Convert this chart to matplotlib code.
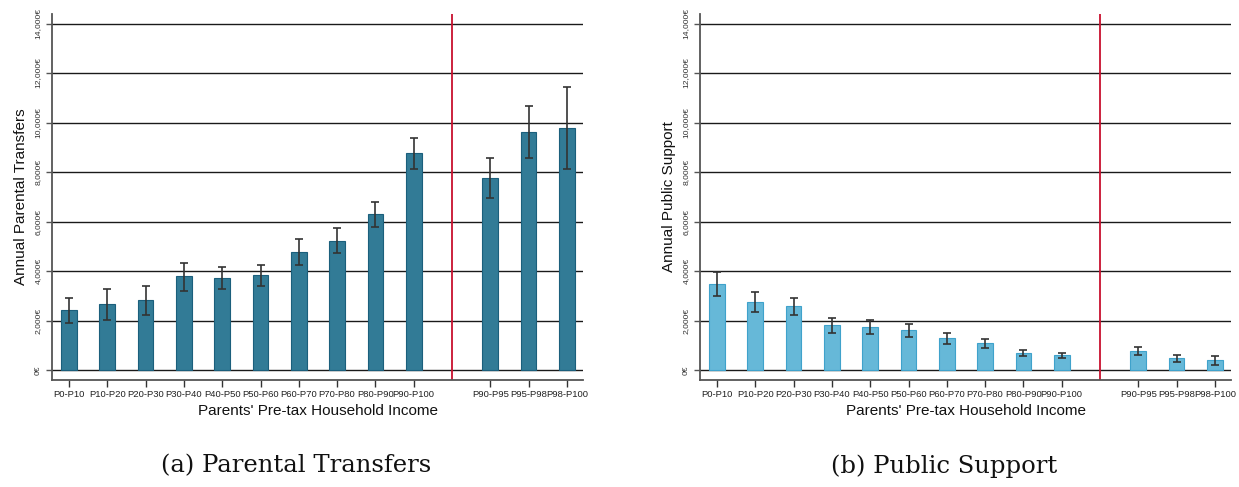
import matplotlib
matplotlib.use("Agg")
import matplotlib.pyplot as plt
import numpy as np

categories = ['P0-P10', 'P10-P20', 'P20-P30', 'P30-P40', 'P40-P50', 'P50-P60',
              'P60-P70', 'P70-P80', 'P80-P90', 'P90-P100',
              'P90-P95', 'P95-P98', 'P98-P100']

transfers = [2420, 2650, 2830, 3780, 3715, 3820, 4750, 5220, 6290, 8750, 7740, 9600, 9770]
transfers_lo = [1910, 2005, 2235, 3205, 3260, 3390, 4225, 4710, 5790, 8115, 6930, 8550, 8115]
transfers_hi = [2895, 3255, 3405, 4335, 4175, 4240, 5275, 5720, 6770, 9380, 8575, 10650, 11415]

public = [3475, 2750, 2585, 1805, 1750, 1600, 1285, 1085, 705, 605, 770, 490, 405]
public_lo = [2985, 2345, 2220, 1490, 1455, 1315, 1050, 890, 550, 485, 595, 325, 190]
public_hi = [3945, 3140, 2895, 2090, 2020, 1865, 1515, 1245, 820, 695, 910, 620, 580]

yticks = list(range(0, 14001, 2000))
ytick_labels = ['0€' if v == 0 else f'{v:,}€' for v in yticks]

xlabel = "Parents' Pre-tax Household Income"
ylabels = ['Annual Parental Transfers', 'Annual Public Support']
captions = ['(a) Parental Transfers', '(b) Public Support']

plt.rcParams['font.family'] = ['Liberation Sans', 'DejaVu Sans']

W, H = 1239, 487
fig = plt.figure(figsize=(W / 100, H / 100), dpi=100)

pos = np.r_[np.arange(1, 11), np.arange(12, 15)]

panels = [
    (52, transfers, transfers_lo, transfers_hi, '#327b96', '#1b5f7c'),
    (700, public, public_lo, public_hi, '#66b8d8', '#3fa2cb'),
]

for k, (x0, vals, lo, hi, fc, ec) in enumerate(panels):
    left = x0 / W
    width = 531 / W
    bottom = 1 - 380 / H
    height = 366 / H
    ax = fig.add_axes([left, bottom, width, height])
    ax.set_xlim(0.556, 14.42)
    ax.set_ylim(-404, 14384)
    for y in yticks:
        ax.axhline(y, color='#1a1a1a', lw=1.0, zorder=1)
    ax.axvline(11, color='#c8102e', lw=1.3, zorder=2)
    ax.bar(pos, vals, width=0.41, color=fc, edgecolor=ec, linewidth=0.8, zorder=3)
    vals_a = np.array(vals)
    yerr = np.vstack([vals_a - np.array(lo), np.array(hi) - vals_a])
    ax.errorbar(pos, vals_a, yerr=yerr, fmt='none', ecolor='#333333',
                elinewidth=1.2, capsize=3.0, capthick=1.2, zorder=4)
    for s in ['top', 'right']:
        ax.spines[s].set_visible(False)
    for s in ['left', 'bottom']:
        ax.spines[s].set_color('#555555')
        ax.spines[s].set_linewidth(1.3)
    ax.set_yticks(yticks)
    ax.set_yticklabels(ytick_labels, rotation=90, va='center', fontsize=6.1, color='#333333')
    ax.set_xticks(pos)
    ax.set_xticklabels(categories, fontsize=6.8, color='#222222')
    ax.tick_params(axis='y', length=4, width=1, color='#555555', pad=3.5)
    ax.tick_params(axis='x', length=5, width=1, color='#333333', pad=2)
    ax.set_xlabel(xlabel, fontsize=11, labelpad=4, color='#111111')
    ax.set_ylabel(ylabels[k], fontsize=11, labelpad=5, color='#111111')
    fig.text((x0 + 244) / W, 1 - 466 / H, captions[k], ha='center', va='center',
             fontsize=17.5, family=['DejaVu Serif'], color='#111111')

fig.savefig('out.png', dpi=100)
